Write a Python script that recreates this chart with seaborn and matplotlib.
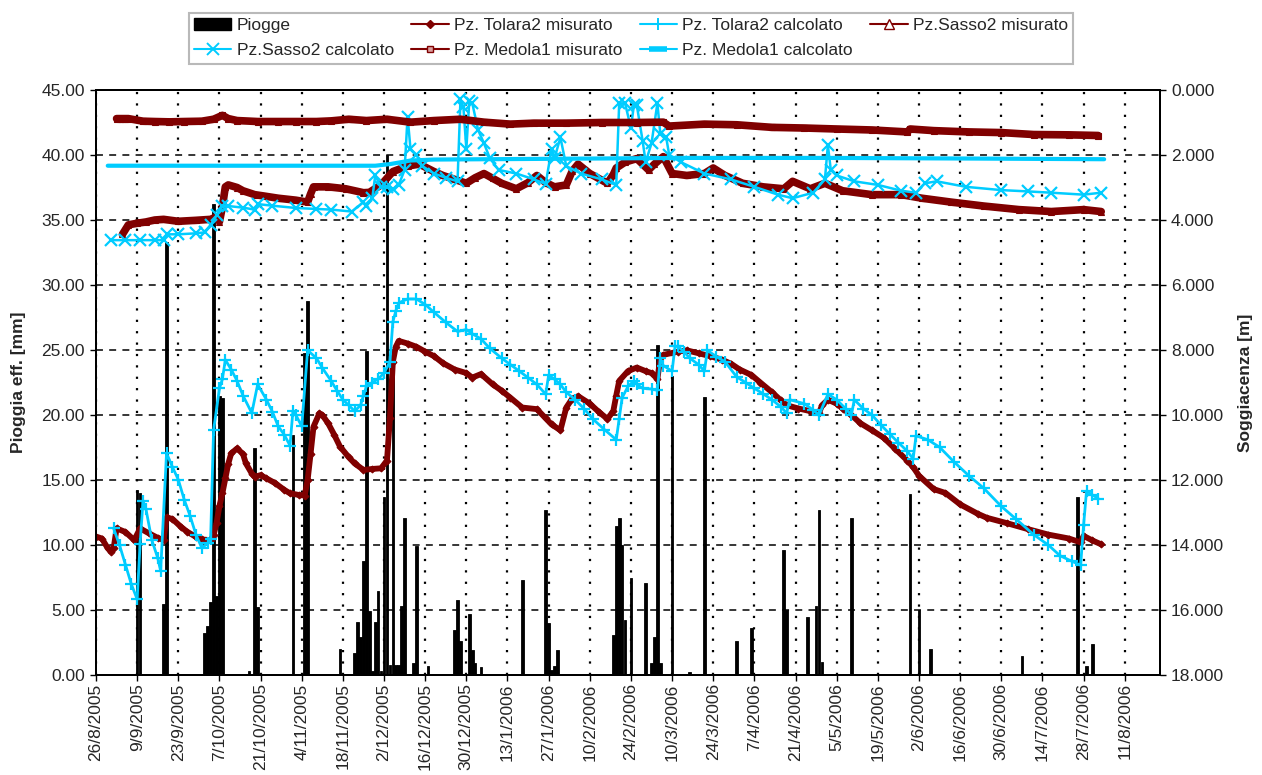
import pandas as pd
import numpy as np
import matplotlib
matplotlib.use("Agg")
import matplotlib.pyplot as plt
from matplotlib.lines import Line2D
from matplotlib.patches import Patch
import seaborn as sns

# giorni contati dal 26/8/2005
inizio = pd.Timestamp("2005-08-26")

# PIOGGE (mm)
pioggia_giorno = [14, 15, 23, 24, 37, 38, 39, 40, 41, 42, 43, 47, 52, 54, 55, 67, 71, 72,
                  83, 88, 89, 90, 91, 92, 93, 94, 95, 96, 97, 98, 99, 100, 101, 102, 103,
                  104, 105, 108, 109, 113, 122, 123, 124, 127, 128, 129, 131, 145, 153,
                  154, 155, 156, 157, 176, 177, 178, 179, 180, 182, 187, 189, 190, 191,
                  192, 196, 202, 207, 208, 218, 223, 228, 234, 235, 242, 245, 246, 247,
                  257, 277, 280, 284, 315, 334, 337, 339]
pioggia_mm = [14.2, 14.0, 5.5, 33.3, 3.2, 3.8, 5.6, 36.2, 6.1, 21.5, 21.3, 0.1, 0.3, 17.5, 5.2, 18.5, 24.8, 28.8,
              2.0, 1.7, 4.1, 2.9, 8.8, 24.9, 4.9, 0.3, 4.1, 6.5, 0.3, 13.7, 40.0, 0.8, 24.8, 0.8, 0.8,
              5.3, 12.1, 0.9, 9.9, 0.7, 3.5, 5.8, 2.6, 4.7, 1.9, 0.9, 0.6, 7.3, 12.7,
              4.0, 0.4, 0.7, 1.9, 3.1, 11.5, 12.1, 10.0, 4.2, 7.5, 7.1, 0.9, 2.9, 25.4,
              0.9, 23.0, 0.2, 21.4, 0.1, 2.6, 3.6, 0.1, 9.6, 5.0, 4.5, 5.3, 12.7, 1.0,
              12.1, 13.9, 5.0, 2.0, 1.5, 13.7, 0.7, 2.4]

# Pz. Tolara2 (soggiacenza m)
tolara2_mis_giorno = [0, 2, 4, 5, 6, 7, 10, 13, 15, 18, 21, 23, 24, 26, 29, 31, 34, 36, 39, 40,
                      41, 42, 43, 44, 45, 46, 48, 50, 51, 53, 54, 56, 58, 61, 64, 66, 69, 71,
                      72, 73, 74, 76, 77, 79, 81, 83, 86, 88, 91, 94, 97, 99, 100, 101, 102,
                      103, 106, 109, 112, 115, 118, 122, 126, 128, 131, 135, 138, 141, 145,
                      150, 153, 155, 158, 160, 162, 164, 168, 171, 174, 176, 177, 178, 181,
                      184, 187, 189, 191, 192, 193, 198, 201, 205, 209, 213, 216, 219, 223,
                      226, 230, 233, 235, 239, 243, 246, 247, 249, 252, 254, 257, 260, 264,
                      268, 272, 276, 278, 280, 285, 289, 294, 300, 303, 310, 317, 324, 331,
                      335, 336, 339, 342]
tolara2_mis = [13.74, 13.8, 14.1, 14.2, 14.1, 13.49, 13.6, 13.85, 13.49, 13.64, 13.78, 13.85, 13.15, 13.2, 13.45, 13.59, 13.75, 13.83, 13.85, 13.7,
               13.33, 12.8, 12.41, 11.95, 11.5, 11.18, 11.03, 11.2, 11.49, 11.8, 11.9, 11.85, 11.95, 12.1, 12.3, 12.41, 12.46, 12.48,
               12.0, 11.2, 10.36, 9.95, 10.0, 10.26, 10.6, 10.97, 11.3, 11.49, 11.69, 11.66, 11.64, 11.4, 10.1, 8.36, 7.9,
               7.72, 7.8, 7.9, 8.05, 8.19, 8.4, 8.6, 8.71, 8.85, 8.74, 9.06, 9.25, 9.47, 9.77,
               9.82, 10.1, 10.29, 10.47, 9.77, 9.5, 9.42, 9.65, 9.9, 10.12, 9.88, 9.4, 8.95, 8.65,
               8.54, 8.65, 8.71, 8.89, 8.25, 8.15, 8.05, 8.01, 8.1, 8.19, 8.3, 8.42, 8.6, 8.77,
               9.0, 9.3, 9.55, 9.7, 9.8, 9.88, 9.94, 9.7, 9.53, 9.65, 9.8, 10.0, 10.25, 10.47,
               10.7, 11.05, 11.4, 11.6, 11.87, 12.28, 12.4, 12.75, 13.04, 13.16, 13.33, 13.51, 13.68, 13.8,
               13.92, 13.72, 13.86, 13.98]

tolara2_calc_giorno = [6, 8, 10, 12, 14, 15, 16, 17, 19, 21, 22, 24, 26, 28, 30, 32, 34, 36, 38, 39,
                       40, 42, 43, 44, 46, 48, 50, 53, 55, 58, 60, 62, 64, 66, 67, 68, 70, 72,
                       75, 77, 80, 82, 84, 86, 88, 90, 91, 92, 94, 96, 98, 100, 101, 102, 103,
                       106, 109, 112, 115, 119, 123, 126, 128, 131, 134, 138, 141, 144, 147,
                       150, 153, 154, 156, 158, 160, 163, 166, 169, 173, 177, 178, 179, 181,
                       183, 184, 186, 189, 191, 192, 193, 196, 197, 198, 200, 202, 205, 207,
                       208, 211, 214, 218, 221, 224, 227, 230, 233, 235, 236, 241, 244, 246,
                       249, 252, 255, 257, 258, 261, 264, 267, 270, 273, 276, 278, 279, 283,
                       287, 292, 297, 302, 308, 313, 319, 324, 328, 332, 335, 336, 337, 339, 341]
tolara2_calc = [13.49, 14.0, 14.6, 15.2, 15.67, 13.97, 12.64, 12.9, 13.85, 14.4, 14.8, 11.17, 11.6, 11.99, 12.6, 13.1, 13.68, 14.09, 13.95, 13.8,
                10.47, 9.18, 8.9, 8.3, 8.6, 8.95, 9.4, 9.94, 9.06, 9.53, 9.9, 10.35, 10.6, 10.94, 9.88, 10.0, 10.35, 8.01,
                8.25, 8.55, 8.95, 9.25, 9.53, 9.7, 9.88, 9.7, 9.4, 9.12, 9.0, 8.89, 8.71, 8.36, 7.13, 6.8, 6.55,
                6.43, 6.43, 6.6, 6.84, 7.15, 7.43, 7.37, 7.5, 7.66, 7.95, 8.25, 8.45, 8.65, 8.85,
                9.06, 9.36, 8.77, 8.9, 9.06, 9.3, 9.53, 9.8, 10.12, 10.45, 10.76, 10.12, 9.47, 9.12,
                8.95, 9.06, 9.18, 9.2, 9.24, 8.25, 8.48, 8.65, 7.89, 7.89, 8.05, 8.25, 8.45, 8.65,
                8.01, 8.2, 8.36, 8.83, 9.0, 9.18, 9.35, 9.53, 9.75, 9.94, 9.53, 9.65, 9.85, 10.0,
                9.36, 9.53, 9.8, 10.0, 9.53, 9.8, 10.0, 10.3, 10.58, 10.85, 11.11, 11.35, 10.64, 10.76,
                10.99, 11.45, 11.87, 12.25, 12.81, 13.2, 13.68, 14.0, 14.33, 14.5, 14.62, 13.39, 12.34, 12.46, 12.57]

# Pz. Sasso2
sasso2_mis_giorno = [9, 11, 14, 17, 20, 23, 28, 34, 39, 41, 42, 43, 44, 45, 48, 50, 54, 57, 62, 68,
                     72, 73, 74, 79, 85, 91, 93, 97, 101, 106, 110, 115, 118, 122, 126, 129, 132,
                     135, 138, 143, 147, 150, 153, 156, 160, 162, 164, 168, 174, 176, 177, 180,
                     184, 188, 190, 193, 196, 201, 207, 210, 214, 220, 227, 234, 237, 243, 248,
                     254, 264, 274, 281, 291, 302, 314, 325, 336, 342]
sasso2_mis = [4.44, 4.15, 4.1, 4.06, 4.0, 3.98, 4.04, 4.01, 3.98, 3.9, 4.05, 3.6, 2.98, 2.92, 3.0, 3.1, 3.22, 3.26, 3.33, 3.39,
              3.45, 3.2, 2.98, 2.98, 3.04, 3.16, 3.15, 2.92, 2.51, 2.34, 2.28, 2.51, 2.63, 2.75, 2.87, 2.7, 2.57,
              2.72, 2.87, 3.04, 2.85, 2.63, 2.85, 2.98, 2.92, 2.5, 2.28, 2.57, 2.87, 2.6, 2.4, 2.22,
              2.11, 2.46, 2.28, 2.05, 2.57, 2.63, 2.57, 2.4, 2.63, 2.87, 2.98, 3.04, 2.81, 3.04, 2.87,
              3.1, 3.22, 3.22, 3.33, 3.45, 3.57, 3.68, 3.74, 3.68, 3.74]

sasso2_calc_giorno = [5, 10, 15, 20, 23, 24, 28, 34, 37, 39, 41, 43, 45, 50, 54, 55, 60, 68, 75, 80,
                      87, 91, 92, 94, 95, 97, 99, 101, 103, 105, 106, 107, 109, 111, 115, 119, 123,
                      124, 125, 126, 127, 128, 130, 132, 134, 137, 143, 149, 153, 155, 156, 158,
                      160, 165, 172, 177, 178, 180, 182, 183, 184, 186, 187, 189, 191, 192, 194,
                      195, 199, 207, 216, 224, 232, 237, 244, 248, 249, 250, 252, 258, 266, 274,
                      279, 282, 286, 296, 308, 317, 325, 336, 342]
sasso2_calc = [4.62, 4.62, 4.62, 4.62, 4.62, 4.44, 4.44, 4.41, 4.38, 4.15, 3.86, 3.57, 3.57, 3.62, 3.68, 3.51, 3.56, 3.63, 3.66, 3.68,
               3.74, 3.45, 3.57, 3.33, 2.63, 2.98, 2.98, 3.05, 2.92, 2.46, 0.82, 1.81, 1.99, 2.34, 2.57, 2.7, 2.81,
               0.29, 0.53, 1.81, 0.35, 0.4, 1.23, 1.64, 2.1, 2.46, 2.57, 2.75, 2.89, 1.81, 2.1, 1.46,
               2.34, 2.57, 2.75, 2.92, 0.41, 0.41, 1.17, 0.47, 0.47, 1.58, 2.22, 1.64, 0.41, 1.35, 1.46,
               1.99, 2.22, 2.57, 2.75, 2.98, 3.22, 3.33, 3.16, 2.75, 1.7, 2.46, 2.63, 2.81, 2.92, 3.1,
               3.16, 2.87, 2.81, 2.98, 3.08, 3.12, 3.16, 3.22, 3.16]

# Pz. Medola1
medola1_mis_giorno = [7, 8, 9, 10, 11, 16, 20, 25, 30, 36, 40, 43, 45, 48, 55, 62, 68, 75, 80, 86,
                      92, 99, 107, 115, 124, 132, 141, 149, 160, 172, 184, 193, 195, 207, 218,
                      230, 241, 252, 264, 276, 277, 285, 297, 308, 319, 331, 341]
medola1_mis = [0.88, 0.88, 0.88, 0.88, 0.88, 0.96, 0.97, 0.98, 0.97, 0.96, 0.9, 0.78, 0.88, 0.94, 0.97, 0.97, 0.97, 0.97, 0.95, 0.9,
               0.94, 0.9, 0.99, 0.94, 0.9, 0.99, 1.05, 1.02, 1.02, 1.0, 1.0, 0.99, 1.11, 1.05, 1.07,
               1.15, 1.17, 1.2, 1.23, 1.29, 1.2, 1.25, 1.29, 1.31, 1.37, 1.38, 1.4]

medola1_calc_giorno = [4, 95, 100, 107, 115, 150, 200, 250, 300, 343]
medola1_calc = [2.33, 2.33, 2.28, 2.17, 2.14, 2.12, 2.09, 2.09, 2.11, 2.13]

ROSSO = "#800000"
CIANO = "#00CCFF"

sns.set_theme(style="white", rc={"lines.scale_dashes": False})
plt.rcParams["font.family"] = ["Liberation Sans", "DejaVu Sans"]
FS = 12.5


def serie(giorni, valori):
    return pd.DataFrame({"data": inizio + pd.to_timedelta(giorni, unit="D"),
                         "soggiacenza": valori})


fig = plt.figure(figsize=(12.62, 7.75), dpi=100)
ax = fig.add_axes([96 / 1262, 1 - 675 / 775, 1064 / 1262, 585 / 775])
ax2 = ax.twinx()

# piogge sull'asse sinistro
date_pioggia = inizio + pd.to_timedelta(pioggia_giorno, unit="D")
ax.bar(date_pioggia, pioggia_mm, width=0.9, color="black", edgecolor="black",
       linewidth=0.6, zorder=2)

# piezometri sull'asse destro
stili = [
    (tolara2_mis_giorno, tolara2_mis, dict(color=ROSSO, lw=4.2, marker="D", markersize=3.5,
                                           markeredgecolor=ROSSO, markeredgewidth=0.8)),
    (tolara2_calc_giorno, tolara2_calc, dict(color=CIANO, lw=2.0, marker="+", markersize=9,
                                             markeredgecolor=CIANO, markeredgewidth=1.6)),
    (sasso2_mis_giorno, sasso2_mis, dict(color=ROSSO, lw=5.5, marker="^", markersize=5,
                                         markeredgecolor=ROSSO, markeredgewidth=0.8)),
    (sasso2_calc_giorno, sasso2_calc, dict(color=CIANO, lw=1.8, marker="x", markersize=8,
                                           markeredgecolor=CIANO, markeredgewidth=1.6)),
    (medola1_mis_giorno, medola1_mis, dict(color=ROSSO, lw=5.5, marker="s", markersize=4,
                                           markeredgecolor=ROSSO, markeredgewidth=0.8)),
    (medola1_calc_giorno, medola1_calc, dict(color=CIANO, lw=3.0)),
]
for giorni, valori, kw in stili:
    sns.lineplot(data=serie(giorni, valori), x="data", y="soggiacenza", ax=ax2,
                 estimator=None, sort=False, legend=False, **kw)

# assi
xt = pd.date_range(inizio, periods=26, freq="14D")
ax.set_xlim(inizio, inizio + pd.Timedelta(days=362))
ax.set_xticks(xt)
ax.set_xticklabels([f"{d.day}/{d.month}/{d.year}" for d in xt], rotation=90, fontsize=FS)

ax.set_ylim(0, 45)
ax.set_yticks(np.arange(0, 46, 5))
ax.set_yticklabels([f"{v:.2f}" for v in np.arange(0, 46, 5)], fontsize=FS)
ax2.set_ylim(18, 0)
ax2.set_yticks(np.arange(0, 19, 2))
ax2.set_yticklabels([f"{v:.3f}" for v in np.arange(0, 19, 2)], fontsize=FS)

ax.set_xlabel("")
ax2.set_xlabel("")
ax.set_ylabel("Pioggia eff. [mm]", fontsize=FS, fontweight="bold")
ax2.set_ylabel("Soggiacenza [m]", fontsize=FS, fontweight="bold")
ax.yaxis.set_label_coords(-0.066, 0.5)
ax2.yaxis.set_label_coords(1.073, 0.5)

ax.set_axisbelow(True)
ax.yaxis.grid(True, color="black", lw=1.1, linestyle=(0, (5, 4.5)))
ax.xaxis.grid(True, color="black", lw=1.6, linestyle=(0, (1.6, 6.6)))
ax2.grid(False)

for a in (ax, ax2):
    for s in a.spines.values():
        s.set_color("black")
        s.set_linewidth(1.4)
ax.tick_params(axis="y", which="both", left=True, length=4, width=1, pad=4, color="black")
ax.tick_params(axis="x", which="both", bottom=True, length=4, width=1, pad=2, color="black")
ax2.tick_params(axis="y", which="both", right=True, length=4, width=1, pad=4, color="black")
ax2.tick_params(axis="x", bottom=False, labelbottom=False)

# legenda (ordine per righe come l'originale)
h_piogge = Patch(facecolor="black", edgecolor="black", label="Piogge")
h_t2m = Line2D([], [], color=ROSSO, lw=1.5, marker="D", markersize=4, label="Pz. Tolara2 misurato")
h_t2c = Line2D([], [], color=CIANO, lw=1.5, marker="+", markersize=9, markeredgewidth=1.4,
               label="Pz. Tolara2 calcolato")
h_s2m = Line2D([], [], color=ROSSO, lw=1.5, marker="^", markersize=7, markerfacecolor="white",
               label="Pz.Sasso2 misurato")
h_s2c = Line2D([], [], color=CIANO, lw=1.5, marker="x", markersize=8, markeredgewidth=1.4,
               label="Pz.Sasso2 calcolato")
h_m1m = Line2D([], [], color=ROSSO, lw=1.5, marker="s", markersize=5, markerfacecolor="#d9a0a0",
               label="Pz. Medola1 misurato")
h_m1c = Line2D([], [], color=CIANO, lw=1.5, marker="_", markersize=13, markeredgewidth=4,
               label="Pz. Medola1 calcolato")
handles = [h_piogge, h_s2c, h_t2m, h_m1m, h_t2c, h_m1c, h_s2m]
leg = fig.legend(handles=handles, ncol=4, loc="upper center", bbox_to_anchor=(0.5, 0.995),
                 fontsize=FS, frameon=True, fancybox=False, edgecolor="#a8a8a8",
                 handlelength=2.15, handletextpad=0.3, columnspacing=1.0,
                 labelspacing=0.6, borderpad=0.3)
leg.get_frame().set_linewidth(1.5)

fig.savefig("out.png", dpi=100, facecolor="white")
